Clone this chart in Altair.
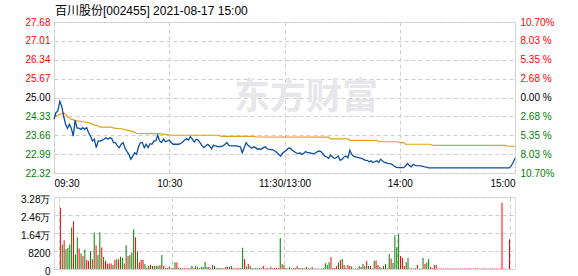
import altair as alt
import pandas as pd

title_text = "百川股份[002455] 2021-08-17 15:00"
watermark_text = "东方财富"
prev_close = 25.00

price_ticks = [22.32, 22.99, 23.66, 24.33, 25.00, 25.67, 26.34, 27.01, 27.68]
pct_ticks = [-10.70, -8.03, -5.35, -2.68, 0.00, 2.68, 5.35, 8.03, 10.70]
pct_labels = ["10.70%", "8.03 %", "5.35 %", "2.68 %", "0.00 %", "2.68 %", "5.35 %", "8.03 %", "10.70%"]
time_ticks = [0, 60, 120, 180, 240]
time_labels = ["09:30", "10:30", "11:30/13:00", "14:00", "15:00"]
vol_ticks = [0, 8200, 16400, 24600, 32800]
vol_labels = ["0", "8200", "1.64万", "2.46万", "3.28万"]

price_minutes = [
    0, 1, 2, 3, 4, 5, 6, 7, 8, 9, 10, 11, 12, 13, 14, 15, 16, 17, 18, 19,
    20, 21, 22, 23, 24, 25, 26, 27, 28, 29, 30, 31, 32, 33, 34, 35, 36, 37, 38, 39,
    40, 41, 42, 43, 44, 45, 46, 47, 48, 49, 50, 51, 52, 53, 54, 55, 56, 57, 58, 60,
    61, 62, 64, 65, 67, 68, 69, 70, 71, 72, 73, 74, 75, 76, 77, 78, 79, 80, 81, 82,
    83, 84, 86, 88, 89, 90, 91, 92, 93, 95, 97, 98, 99, 100, 101, 102, 103, 104, 105, 106,
    107, 108, 109, 110, 111, 112, 114, 115, 116, 117, 118, 119, 120, 121, 122, 123, 124, 126, 127, 128,
    129, 130, 131, 132, 133, 134, 135, 136, 137, 138, 139, 140, 141, 142, 143, 144, 145, 146, 147, 148,
    149, 150, 151, 152, 153, 154, 155, 156, 157, 159, 160, 161, 162, 163, 164, 165, 166, 167, 168, 169,
    170, 171, 172, 173, 174, 175, 176, 177, 178, 179, 180, 182, 183, 184, 185, 186, 187, 188, 189, 191,
    193, 194, 195, 237, 238, 239, 240,
]
price_values = [
    24.23, 24.46, 24.52, 24.86, 24.70, 24.34, 24.06, 23.90, 24.05, 23.91, 23.63, 24.19, 23.91, 23.91, 23.87, 23.93, 23.87, 23.93, 23.75, 23.63,
    23.46, 23.52, 23.22, 23.46, 23.45, 23.48, 23.52, 23.57, 23.52, 23.57, 23.55, 23.40, 23.40, 23.28, 23.22, 23.34, 23.40, 23.20, 23.08, 22.98,
    22.81, 22.92, 23.04, 22.98, 23.25, 23.40, 23.40, 23.22, 23.34, 23.22, 23.36, 23.34, 23.46, 23.46, 23.66, 23.46, 23.40, 23.52, 23.43, 23.49,
    23.40, 23.34, 23.34, 23.34, 23.42, 23.49, 23.54, 23.49, 23.61, 23.52, 23.42, 23.52, 23.49, 23.40, 23.30, 23.22, 23.28, 23.34, 23.28, 23.18,
    23.30, 23.28, 23.25, 23.28, 23.34, 23.40, 23.30, 23.28, 23.28, 23.28, 23.25, 23.04, 23.22, 23.40, 23.30, 23.25, 23.20, 23.25, 23.22, 23.16,
    23.18, 23.16, 23.22, 23.25, 23.18, 23.16, 23.14, 23.10, 23.05, 22.98, 22.92, 23.02, 23.08, 23.13, 23.20, 23.20, 23.13, 23.04, 23.00, 23.04,
    22.98, 23.02, 23.08, 23.04, 23.04, 23.02, 23.00, 23.03, 23.07, 23.10, 23.08, 23.00, 22.92, 22.89, 22.84, 22.96, 22.89, 22.84, 22.86, 22.92,
    22.77, 22.81, 22.89, 22.92, 22.86, 23.13, 22.98, 22.92, 22.89, 22.86, 22.84, 22.81, 22.77, 22.77, 22.72, 22.75, 22.69, 22.72, 22.75, 22.69,
    22.81, 22.75, 22.69, 22.69, 22.65, 22.65, 22.63, 22.57, 22.53, 22.51, 22.51, 22.51, 22.57, 22.66, 22.59, 22.54, 22.63, 22.59, 22.58, 22.57,
    22.54, 22.53, 22.50, 22.50, 22.57, 22.69, 22.84,
]

avg_minutes = [0, 2, 4, 5, 6, 7, 9, 11, 12, 15, 18, 19, 21, 23, 24, 30, 31, 35, 38, 41, 43, 49, 54, 57, 60, 62,
               86, 87, 104, 105, 143, 144, 153, 154, 168, 169, 179, 180, 182, 183, 196, 197, 235, 236, 240]
avg_values = [24.31, 24.38, 24.42, 24.46, 24.40, 24.31, 24.23, 24.19, 24.17, 24.14, 24.11, 24.08, 24.02, 23.99, 23.95,
              23.95, 23.91, 23.89, 23.84, 23.79, 23.73, 23.72, 23.72, 23.69, 23.67, 23.66,
              23.66, 23.62, 23.62, 23.60, 23.59, 23.53, 23.53, 23.48, 23.48, 23.43, 23.43, 23.40, 23.40, 23.34,
              23.34, 23.30, 23.30, 23.27, 23.27]

volumes = [
    27900, 11200, 13100, 9050, 9640, 11200, 18900, 21700, 6650, 14500,
    9360, 7100, 5880, 8900, 4070, 3620, 8140, 4400, 16600, 10860,
    6330, 16600, 9800, 5430, 3620, 2560, 2560, 2560, 1810, 4070,
    4400, 4400, 5580, 5110, 2560, 10860, 5880, 6330, 7550, 18100,
    14500, 8140, 3030, 4070, 4070, 2260, 590, 1360, 1810, 1360,
    1360, 1360, 1360, 1810, 6330, 1360, 590, 300, 1100,
    300, 300, 3030, 3030, 590, 590, 300, 300, 300, 300,
    300, 1360, 590, 1360, 900, 300, 900, 900, 3300, 900,
    900, 300, 1810, 1360, 300, 300, 500, 300, 300, 900,
    900, 900, 1360, 300, 300, 500, 300, 400, 9640, 4520,
    1100, 2260, 1360, 300, 300, 500, 300, 300, 300, 1360,
    300, 300, 300, 900, 300, 500, 500, 500, 14100, 2260,
    1810,
    300, 200, 900, 200, 300, 500, 1360, 500, 300, 500,
    300, 900, 300, 300, 900, 200, 200, 200, 200, 200,
    300, 2580, 1810, 3030, 5430, 500, 500, 1360, 3030, 4070,
    4520, 1810, 500, 1810, 1360, 1100, 200, 200, 200, 1360,
    900, 2260, 1360, 3620, 1360, 1360, 200, 3620, 3920, 1810,
    900, 500, 1360, 2260, 300, 6790, 4830, 2750, 15400, 9950,
    15800, 5880, 5110, 1360, 3030, 4980, 300, 200, 200, 300,
    1810, 200, 200, 4980, 2260, 3030, 4520, 900, 300, 1810,
    1810, 200, 200, 200, 200, 200, 200, 200, 200, 200,
    200, 200, 200, 200, 200, 200, 200, 200, 200, 200,
    200, 200, 200, 200, 200, 200, 200, 200, 200, 200,
    200, 200, 200, 200, 200, 30200, 200, 0, 0, 13600,
]
vol_dirs = [
    "r", "g", "r", "g", "g", "g", "g", "r", "g", "g",
    "r", "g", "r", "g", "r", "r", "g", "r", "g", "r",
    "g", "g", "r", "g", "r", "r", "r", "r", "g", "r",
    "g", "r", "g", "g", "r", "g", "r", "g", "g", "g",
    "r", "g", "r", "r", "r", "g", "g", "r", "g", "r",
    "g", "g", "g", "r", "g", "r", "g", "r", "r",
    "g", "r", "g", "r", "g", "g", "r", "r", "r", "r",
    "g", "g", "r", "g", "g", "r", "g", "g", "g", "g",
    "r", "r", "g", "r", "g", "g", "g", "r", "g", "r",
    "r", "g", "g", "r", "g", "r", "r", "g", "g", "r",
    "g", "r", "g", "g", "g", "g", "g", "g", "r", "r",
    "r", "r", "r", "g", "r", "g", "r", "r", "g", "r",
    "g",
    "r", "r", "g", "r", "g", "g", "r", "g", "r", "g",
    "r", "g", "r", "r", "g", "r", "r", "r", "g", "g",
    "g", "g", "g", "g", "r", "r", "r", "r", "g", "r",
    "g", "r", "g", "r", "r", "g", "g", "g", "g", "g",
    "r", "g", "g", "r", "g", "r", "g", "g", "r", "r",
    "g", "g", "r", "g", "r", "g", "r", "g", "g", "g",
    "g", "r", "r", "r", "g", "g", "r", "g", "g", "g",
    "r", "g", "g", "g", "r", "g", "g", "r", "r", "g",
    "r", "r", "r", "r", "r", "r", "r", "r", "r", "r",
    "r", "r", "r", "r", "r", "r", "r", "r", "r", "r",
    "r", "r", "r", "r", "r", "r", "r", "r", "r", "r",
    "r", "r", "r", "r", "r", "r", "r", "r", "r", "r",
]

FONT = "Liberation Sans, Noto Sans CJK SC"
RED = "#FF0000"
GREEN = "#008000"
GRID = "#cdcdcd"


def lookup_expr(vals, labels):
    expr = "''"
    for v, l in zip(vals, labels):
        expr = f"abs(datum.value - ({v})) < 0.001 ? '{l}' : " + expr
    return expr


def color_cond(mid):
    return {
        "condition": [
            {"test": f"datum.value > {mid} + 0.001", "value": RED},
            {"test": f"datum.value < {mid} - 0.001", "value": GREEN},
        ],
        "value": "#000000",
    }


price_df = pd.DataFrame({"minute": price_minutes, "price": price_values})
avg_df = pd.DataFrame({"minute": avg_minutes, "avg": avg_values})
vol_df = pd.DataFrame({
    "minute": list(range(1, len(volumes) + 1)),
    "volume": volumes,
    "dir": vol_dirs,
})

x_scale = alt.Scale(domain=[0, 240], nice=False, zero=False)

x_axis_price = alt.Axis(
    values=time_ticks, labelExpr=lookup_expr(time_ticks, time_labels),
    grid=True, gridDash=[4, 3], gridColor=GRID, ticks=False, domain=False,
    labelPadding=5, labelFlush=True, title=None,
)
y_axis_price = alt.Axis(
    values=price_ticks, format=".2f", grid=True, gridDash=[4, 3], gridColor=GRID,
    ticks=False, domain=False, labelPadding=4, title=None, orient="left",
    labelColor=color_cond(prev_close),
)

price_scale = alt.Scale(domain=[22.32, 27.68], nice=False, zero=False)

avg_line = alt.Chart(avg_df).mark_line(color="#E0A11B", strokeWidth=1.2).encode(
    x=alt.X("minute:Q", scale=x_scale, axis=x_axis_price),
    y=alt.Y("avg:Q", scale=price_scale, axis=y_axis_price),
)
price_line = alt.Chart(price_df).mark_line(color="#0A4FA0", strokeWidth=1.3).encode(
    x=alt.X("minute:Q", scale=x_scale, axis=x_axis_price),
    y=alt.Y("price:Q", scale=price_scale, axis=y_axis_price),
)
lines = alt.layer(avg_line, price_line)

pct_layer = alt.Chart(price_df).transform_calculate(
    pct=f"(datum.price - {prev_close}) / {prev_close} * 100"
).mark_line(opacity=0).encode(
    x=alt.X("minute:Q", scale=x_scale, axis=x_axis_price),
    y=alt.Y("pct:Q", scale=alt.Scale(domain=[-10.70, 10.70], nice=False, zero=False),
            axis=alt.Axis(orient="right", values=pct_ticks,
                          labelExpr=lookup_expr(pct_ticks, pct_labels),
                          grid=False, ticks=False, domain=False, labelPadding=5,
                          title=None, labelColor=color_cond(0))),
)

title_layer = alt.Chart(pd.DataFrame({"t": [title_text]})).mark_text(
    align="left", baseline="middle", fontSize=12, font=FONT, color="#000000"
).encode(x=alt.value(1), y=alt.value(-11), text="t:N")

watermark = alt.Chart(pd.DataFrame({"t": [watermark_text]})).mark_text(
    align="center", baseline="middle", fontSize=36, font="Noto Sans CJK SC",
    fontWeight="bold", color="#E6E6EB"
).encode(x=alt.value(252), y=alt.value(76), text="t:N")

price_panel = alt.layer(
    watermark, lines, pct_layer, title_layer
).resolve_scale(y="independent").properties(width=461, height=151)

vol_panel = alt.Chart(vol_df).mark_bar(size=1, xOffset=-0.5).encode(
    x=alt.X("minute:Q", scale=x_scale,
            axis=alt.Axis(values=time_ticks, labels=False, grid=True, gridDash=[4, 3],
                          gridColor=GRID, ticks=False, domain=False, title=None)),
    y=alt.Y("volume:Q", scale=alt.Scale(domain=[0, 32800], nice=False),
            axis=alt.Axis(values=vol_ticks, labelExpr=lookup_expr(vol_ticks, vol_labels),
                          grid=True, gridDash=[4, 3], gridColor=GRID, ticks=False,
                          domain=False, labelPadding=4, title=None, labelColor="#000000",
                          labelOffset=2)),
    color=alt.Color("dir:N", scale=alt.Scale(domain=["r", "g"], range=[RED, GREEN]), legend=None),
).properties(width=461, height=72)

chart = alt.vconcat(price_panel, vol_panel, spacing=24, bounds="flush").properties(
    padding={"left": 20, "top": 4, "right": 5, "bottom": 2}
).configure_view(
    stroke="#999999", strokeWidth=1
).configure_axis(
    labelFont=FONT, labelFontSize=12
).configure(background="white")

chart.save("out.html", embed_options={"renderer": "svg", "actions": False})
